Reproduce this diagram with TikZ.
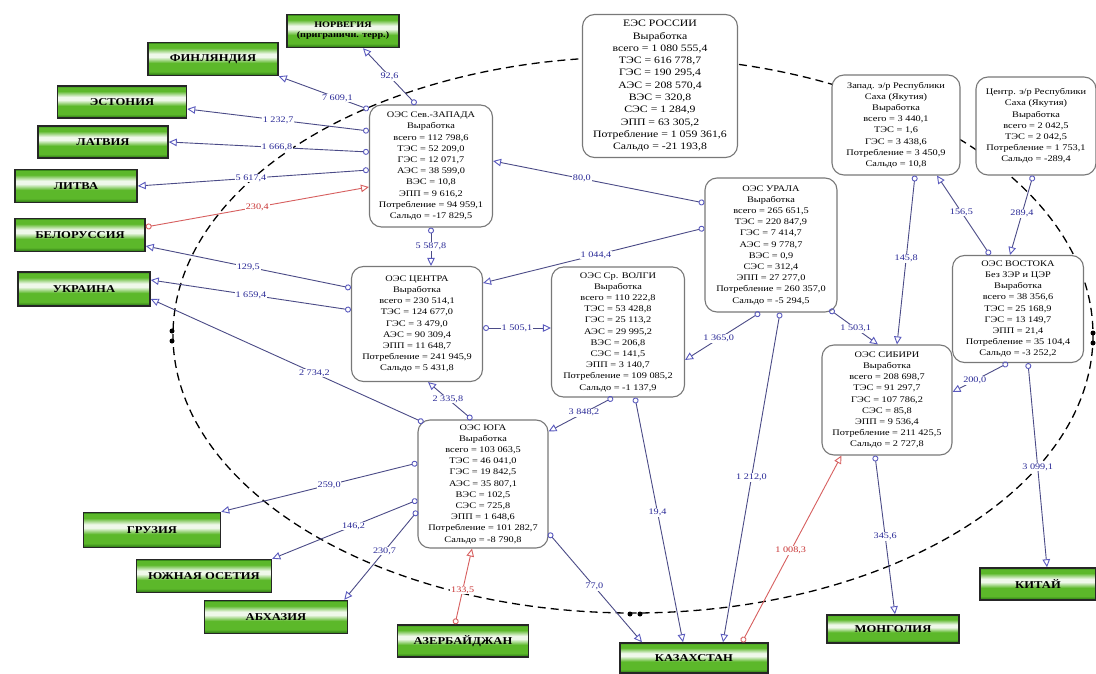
\documentclass[tikz,border=0pt]{standalone}
\usepackage{fontspec}
\setmainfont{Liberation Serif}[FakeStretch=1.2]
\usepackage{tikz}
\usetikzlibrary{arrows.meta}
\definecolor{boxgrey}{RGB}{120,120,120}
\definecolor{flowblue}{RGB}{75,75,135}
\definecolor{tipblue}{RGB}{90,90,190}
\definecolor{amountblue}{RGB}{40,40,150}
\definecolor{flowred}{RGB}{215,95,95}
\definecolor{amountred}{RGB}{200,50,50}
\definecolor{leafgreen}{RGB}{92,184,42}
\definecolor{leafdark}{RGB}{38,110,18}
\pgfdeclareverticalshading{leafbar}{100bp}{color(0bp)=(leafdark); color(25bp)=(leafdark); color(31bp)=(leafgreen); color(44bp)=(leafgreen); color(53bp)=(white!90!leafgreen); color(58bp)=(white!90!leafgreen); color(67bp)=(leafgreen); color(73bp)=(leafgreen); color(75bp)=(leafdark); color(100bp)=(leafdark)}
\tikzstyle{border} = [draw, line width=1.3pt, dash pattern=on 8pt off 5pt]
\tikzstyle{oes} = [
    draw=boxgrey,
    line width=1.1pt,
    rounded corners=12pt,
    fill=white,
    align=center,
    inner sep=2pt,
    font=\fontsize{8.6}{11.2}\selectfont
]
\tikzstyle{big} = [font=\fontsize{9.8}{12.3}\selectfont]
\tikzstyle{country} = [
    draw=black!85,
    line width=1.5pt,
    shading=leafbar,
    align=center,
    inner sep=1pt,
    font=\bfseries\fontsize{10.5}{11}\selectfont
]
\tikzstyle{out flow} = [draw=flowblue, line width=0.9pt, {Circle[open, length=6pt, color=tipblue]}-{Triangle[open, length=8pt, width=7.5pt, color=tipblue]}]
\tikzstyle{in flow} = [draw=flowred, line width=0.9pt, {Circle[open, length=6pt, color=flowred]}-{Triangle[open, length=8pt, width=7.5pt, color=flowred]}]
\tikzstyle{amount} = [fill=white, inner sep=0.8pt, text=amountblue, font=\fontsize{8.5}{9}\selectfont]
\tikzstyle{in amount} = [amount, text=amountred]

\begin{document}
\begin{tikzpicture}[x=1pt, y=-1pt]
    \fill [white] (0, 0) rectangle (1096, 674);
    \useasboundingbox (0, 0) rectangle (1096, 674);

    % Border.
    \draw [border] (633, 335) ellipse [x radius=460, y radius=278];
    \fill (172, 331) circle [radius=2.5pt] (172, 341) circle [radius=2.5pt];
    \fill (630, 614) circle [radius=2.5pt] (640, 614) circle [radius=2.5pt];
    \fill (1093, 333) circle [radius=2.5pt] (1093, 343) circle [radius=2.5pt];

    % Systems.
    \node (ues) [oes, big, minimum width=155pt, minimum height=143pt] at (660, 86) {ЕЭС РОССИИ\\Выработка\\всего = 1 080 555,4\\ТЭС = 616 778,7\\ГЭС = 190 295,4\\АЭС = 208 570,4\\ВЭС = 320,8\\СЭС = 1 284,9\\ЭПП = 63 305,2\\Потребление = 1 059 361,6\\Сальдо = -21 193,8};
    \node (sz) [oes, minimum width=123pt, minimum height=122pt] at (431, 166) {ОЭС Сев.-ЗАПАДА\\Выработка\\всего = 112 798,6\\ТЭС = 52 209,0\\ГЭС = 12 071,7\\АЭС = 38 599,0\\ВЭС = 10,8\\ЭПП = 9 616,2\\Потребление = 94 959,1\\Сальдо = -17 829,5};
    \node (centre) [oes, minimum width=131pt, minimum height=115pt] at (417, 324) {ОЭС ЦЕНТРА\\Выработка\\всего = 230 514,1\\ТЭС = 124 677,0\\ГЭС = 3 479,0\\АЭС = 90 309,4\\ЭПП = 11 648,7\\Потребление = 241 945,9\\Сальдо = 5 431,8};
    \node (volga) [oes, minimum width=133pt, minimum height=130pt] at (618, 332) {ОЭС Ср. ВОЛГИ\\Выработка\\всего = 110 222,8\\ТЭС = 53 428,8\\ГЭС = 25 113,2\\АЭС = 29 995,2\\ВЭС = 206,8\\СЭС = 141,5\\ЭПП = 3 140,7\\Потребление = 109 085,2\\Сальдо = -1 137,9};
    \node (ural) [oes, minimum width=132pt, minimum height=134pt] at (771, 245) {ОЭС УРАЛА\\Выработка\\всего = 265 651,5\\ТЭС = 220 847,9\\ГЭС = 7 414,7\\АЭС = 9 778,7\\ВЭС = 0,9\\СЭС = 312,4\\ЭПП = 27 277,0\\Потребление = 260 357,0\\Сальдо = -5 294,5};
    \node (yakutia west) [oes, minimum width=128pt, minimum height=100pt] at (896, 125) {Запад. э/р Республики\\Саха (Якутия)\\Выработка\\всего = 3 440,1\\ТЭС = 1,6\\ГЭС = 3 438,6\\Потребление = 3 450,9\\Сальдо = 10,8};
    \node (yakutia centre) [oes, minimum width=120pt, minimum height=98pt] at (1036, 126) {Центр. э/р Республики\\Саха (Якутия)\\Выработка\\всего = 2 042,5\\ТЭС = 2 042,5\\Потребление = 1 753,1\\Сальдо = -289,4};
    \node (vostok) [oes, minimum width=131pt, minimum height=107pt] at (1018, 309) {ОЭС ВОСТОКА\\Без ЗЭР и ЦЭР\\Выработка\\всего = 38 356,6\\ТЭС = 25 168,9\\ГЭС = 13 149,7\\ЭПП = 21,4\\Потребление = 35 104,4\\Сальдо = -3 252,2};
    \node (sibir) [oes, minimum width=130pt, minimum height=110pt] at (887, 400) {ОЭС СИБИРИ\\Выработка\\всего = 208 698,7\\ТЭС = 91 297,7\\ГЭС = 107 786,2\\СЭС = 85,8\\ЭПП = 9 536,4\\Потребление = 211 425,5\\Сальдо = 2 727,8};
    \node (yug) [oes, minimum width=130pt, minimum height=128pt] at (483, 484) {ОЭС ЮГА\\Выработка\\всего = 103 063,5\\ТЭС = 46 041,0\\ГЭС = 19 842,5\\АЭС = 35 807,1\\ВЭС = 102,5\\СЭС = 725,8\\ЭПП = 1 648,6\\Потребление = 101 282,7\\Сальдо = -8 790,8};

    % Countries.
    \node (norway) [country, minimum width=112pt, minimum height=33pt, font=\bfseries\fontsize{8.5}{10}\selectfont] at (343, 31) {НОРВЕГИЯ\\(приграничн. терр.)};
    \node (finland) [country, minimum width=130pt, minimum height=33pt] at (213, 59) {ФИНЛЯНДИЯ};
    \node (estonia) [country, minimum width=129pt, minimum height=32pt] at (122, 102) {ЭСТОНИЯ};
    \node (latvia) [country, minimum width=130pt, minimum height=32pt] at (103, 142) {ЛАТВИЯ};
    \node (lithuania) [country, minimum width=122pt, minimum height=33pt] at (76, 186) {ЛИТВА};
    \node (belarus) [country, minimum width=130pt, minimum height=33pt] at (80, 235) {БЕЛОРУССИЯ};
    \node (ukraine) [country, minimum width=132pt, minimum height=34pt] at (84, 289) {УКРАИНА};
    \node (georgia) [country, minimum width=137pt, minimum height=35pt] at (152, 530) {ГРУЗИЯ};
    \node (south ossetia) [country, minimum width=135pt, minimum height=33pt] at (204, 576) {ЮЖНАЯ ОСЕТИЯ};
    \node (abkhazia) [country, minimum width=143pt, minimum height=33pt] at (276, 617) {АБХАЗИЯ};
    \node (azerbaijan) [country, minimum width=131pt, minimum height=32pt] at (463, 641) {АЗЕРБАЙДЖАН};
    \node (kazakhstan) [country, minimum width=148pt, minimum height=30pt] at (694, 658) {КАЗАХСТАН};
    \node (mongolia) [country, minimum width=132pt, minimum height=28pt] at (893, 629) {МОНГОЛИЯ};
    \node (china) [country, minimum width=116pt, minimum height=32pt] at (1038, 584) {КИТАЙ};

    % North-west.
    \draw [out flow] ([xshift=-15pt]sz.north) -- node [amount, pos=0.5] {92,6} ([xshift=20pt]norway.south);
    \draw [out flow] ([yshift=-5pt]sz.north west) -- node [amount, pos=0.35] {7 609,1} (finland.south east);
    \draw [out flow] ([yshift=35pt]sz.west) -- node [amount, pos=0.5] {1 232,7} ([yshift=-7pt]estonia.east);
    \draw [out flow] ([yshift=14pt]sz.west) -- node [amount, pos=0.46] {1 666,8} (latvia.east);
    \draw [out flow] ([yshift=-4pt]sz.west) -- node [amount, pos=0.51] {5 617,4} (lithuania.east);
    \draw [in flow] ([yshift=8pt]belarus.east) -- node [in amount, pos=0.5] {230,4} ([yshift=-21pt]sz.west);
    \draw [out flow] (sz.south) -- node [amount, pos=0.5] {5 587,8} (sz.south |- centre.north);

    % Centre and Volga.
    \draw [out flow] ([yshift=42pt]ural.west) -- node [amount, pos=0.58] {80,0} ([yshift=5pt]sz.east);
    \draw [out flow] ([yshift=17pt]ural.west) -- node [amount, pos=0.49] {1 044,4} ([yshift=41pt]centre.east);
    \draw [out flow] ([yshift=36pt]centre.west) -- node [amount, pos=0.5] {129,5} ([yshift=-11pt]belarus.east);
    \draw [out flow] ([yshift=14pt]centre.west) -- node [amount, pos=0.5] {1 659,4} ([yshift=9pt]ukraine.east);
    \draw [out flow] ([yshift=-4pt]centre.east) -- node [amount, pos=0.5] {1 505,1} ([yshift=4pt]volga.west);
    \draw [out flow] ([xshift=-11pt]ural.south) -- node [amount, pos=0.55] {1 365,0} ([yshift=-28pt]volga.east);
    \draw [out flow] ([xshift=-5pt]volga.south) -- node [amount, pos=0.45] {3 848,2} ([yshift=-12pt]yug.north east);
    \draw [out flow] ([xshift=17pt]volga.south) -- node [amount, pos=0.47] {19,4} ([xshift=-11pt]kazakhstan.north);

    % South.
    \draw [out flow] ([xshift=6pt, yshift=-3pt]yug.north west) -- node [amount, pos=0.4] {2 734,2} ([yshift=-10pt]ukraine.east);
    \draw [out flow] ([xshift=-11pt]yug.north) -- node [amount, pos=0.55] {2 335,8} ([xshift=11pt]centre.south);
    \draw [out flow] ([yshift=21pt]yug.west) -- node [amount, pos=0.45] {259,0} (georgia.north east);
    \draw [out flow] ([yshift=-16pt]yug.west) -- node [amount, pos=0.44] {146,2} (south ossetia.north east);
    \draw [out flow] ([yshift=-27pt]yug.west) -- node [amount, pos=0.45] {230,7} ([xshift=-4pt]abkhazia.north east);
    \draw [out flow] ([yshift=-49pt]yug.east) -- node [amount, pos=0.49] {77,0} ([xshift=-52pt]kazakhstan.north);
    \draw [in flow] ([xshift=-8pt]azerbaijan.north) -- node [in amount, pos=0.45] {133,5} ([xshift=-11pt]yug.south);

    % Urals, Siberia and East.
    \draw [out flow] ([xshift=-8pt, yshift=3pt]ural.south east) -- node [amount, pos=0.54] {1 503,1} ([xshift=-9pt]sibir.north);
    \draw [out flow] ([xshift=9pt]ural.south) -- node [amount, pos=0.5] {1 212,0} ([xshift=29pt]kazakhstan.north);
    \draw [out flow] ([xshift=19pt]yakutia west.south) -- node [amount, pos=0.49] {145,8} ([xshift=10pt]sibir.north);
    \draw [out flow] ([xshift=-28pt]vostok.north) -- node [amount, pos=0.54] {156,5} ([xshift=41pt]yakutia west.south);
    \draw [out flow] ([xshift=-3pt]yakutia centre.south) -- node [amount, pos=0.48] {289,4} ([xshift=-8pt]vostok.north);
    \draw [out flow] ([xshift=-10pt]vostok.south) -- node [amount, pos=0.6] {200,0} ([yshift=8pt]sibir.east);
    \draw [out flow] ([xshift=10pt]vostok.south) -- node [amount, pos=0.51] {3 099,1} ([xshift=9pt]china.north);
    \draw [out flow] ([xshift=-12pt]sibir.south) -- node [amount, pos=0.51] {345,6} ([xshift=2pt]mongolia.north);
    \draw [in flow] ([xshift=48pt]kazakhstan.north) -- node [in amount, pos=0.49] {1 008,3} ([xshift=20pt]sibir.south west);
\end{tikzpicture}
\end{document}
